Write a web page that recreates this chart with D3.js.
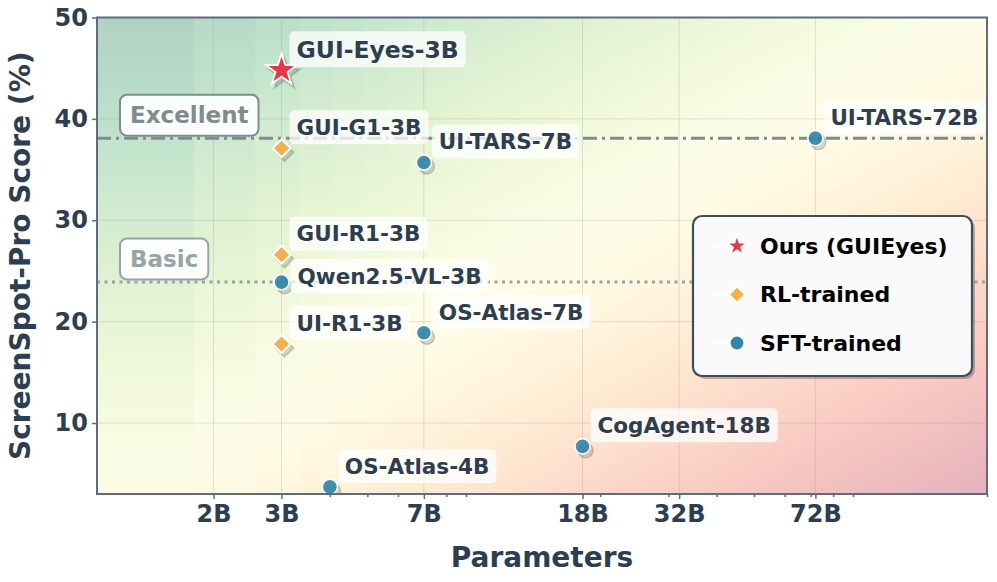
<!DOCTYPE html>
<html>
<head>
<meta charset="utf-8">
<script src="https://cdn.jsdelivr.net/npm/d3@7"></script>
<style>
  html, body { margin: 0; padding: 0; background: #fff; }
  svg { display: block; font-family: "DejaVu Sans", sans-serif; }
</style>
</head>
<body>
<svg id="chart" width="997" height="582"></svg>
<script>
// ScreenSpot-Pro score vs. model size
const models = ['GUI-Eyes-3B', 'GUI-G1-3B', 'UI-TARS-7B', 'UI-TARS-72B', 'GUI-R1-3B',
  'Qwen2.5-VL-3B', 'UI-R1-3B', 'OS-Atlas-7B', 'CogAgent-18B', 'OS-Atlas-4B'];
const params = [3, 3, 7, 72, 3, 3, 3, 7, 18, 4];
const scores = [44.8, 37.1, 35.7, 38.1, 26.6, 23.9, 17.8, 18.9, 7.7, 3.7];
const training = ['ours', 'rl', 'sft', 'sft', 'rl', 'sft', 'rl', 'sft', 'sft', 'sft'];

const xTicks = [2, 3, 7, 18, 32, 72];
const xMinorTicks = [4, 5, 6, 8, 9, 20, 30, 40, 50, 60, 70, 80, 90, 200];
const yTicks = [10, 20, 30, 40, 50];

const thresholdNames = ['Excellent', 'Basic'];
const thresholdValues = [38.1, 23.9];

const legendLabels = ['Ours (GUIEyes)', 'RL-trained', 'SFT-trained'];
const legendKinds = ['ours', 'rl', 'sft'];

// styling
const DARK = '#2c3e50';
const kindStyle = {
  ours: { fill: '#e63946', opacity: 1 },
  rl: { fill: '#f6ae45', opacity: 0.95 },
  sft: { fill: '#2e86ab', opacity: 0.9 }
};
const thresholdStyle = [
  { color: '#7f8c8d', dash: '14,5,3,5' },
  { color: '#95a5a6', dash: '3,4.5' }
];

const svg = d3.select('#chart');
const plotL = 97, plotR = 987, plotT = 17.5, plotB = 494;
const W = plotR - plotL, H = plotB - plotT;

const x = d3.scaleLog().domain([1, 200]).range([plotL, plotR]);
const y = d3.scaleLinear().domain([3, 50]).range([plotB, plotT]);

// background: 2D diverging wash, sampled on a linear grid like imshow
(function drawBackground() {
  const canvas = document.createElement('canvas');
  canvas.width = W; canvas.height = Math.ceil(H);
  const ctx = canvas.getContext('2d');
  const img = ctx.createImageData(canvas.width, canvas.height);
  const N = 256, alpha = 0.3;
  const [x0, x1] = x.domain(), [y0, y1] = y.domain();
  for (let j = 0; j < canvas.height; j++) {
    const yv = y.invert(plotT + j + 0.5);
    const r = Math.min(N - 1, Math.floor((yv - y0) / ((y1 - y0) / N)));
    const ys = y0 + r * (y1 - y0) / (N - 1);
    for (let i = 0; i < canvas.width; i++) {
      const xv = x.invert(plotL + i + 0.5);
      const c = Math.min(N - 1, Math.floor((xv - x0) / ((x1 - x0) / N)));
      const xs = x0 + c * (x1 - x0) / (N - 1);
      const v = 0.5 * Math.log(xs) / Math.log(x1) + 0.5 * (y1 - ys) / (y1 - y0);
      const col = d3.rgb(d3.interpolateRdYlGn(1 - Math.max(0, Math.min(1, v))));
      const k = (j * canvas.width + i) * 4;
      img.data[k] = 255 * (1 - alpha) + col.r * alpha;
      img.data[k + 1] = 255 * (1 - alpha) + col.g * alpha;
      img.data[k + 2] = 255 * (1 - alpha) + col.b * alpha;
      img.data[k + 3] = 255;
    }
  }
  ctx.putImageData(img, 0, 0);
  svg.append('image')
    .attr('x', plotL).attr('y', plotT)
    .attr('width', W).attr('height', canvas.height)
    .attr('preserveAspectRatio', 'none')
    .attr('href', canvas.toDataURL());
})();

svg.append('clipPath').attr('id', 'plot-clip')
  .append('rect').attr('x', plotL).attr('y', plotT).attr('width', W).attr('height', H);

// grid
const grid = svg.append('g').attr('stroke', '#a0a0a0').attr('stroke-opacity', 0.3).attr('stroke-width', 1);
grid.selectAll('.gx').data(xTicks).enter().append('line')
  .attr('x1', d => x(d)).attr('x2', d => x(d)).attr('y1', plotT).attr('y2', plotB);
grid.selectAll('.gy').data(yTicks).enter().append('line')
  .attr('y1', d => y(d)).attr('y2', d => y(d)).attr('x1', plotL).attr('x2', plotR);

// threshold lines
svg.append('g').selectAll('line').data(thresholdValues).enter().append('line')
  .attr('x1', plotL).attr('x2', plotR)
  .attr('y1', d => y(d)).attr('y2', d => y(d))
  .attr('stroke', (d, i) => thresholdStyle[i].color)
  .attr('stroke-width', 3)
  .attr('stroke-dasharray', (d, i) => thresholdStyle[i].dash);

// threshold tags
thresholdNames.forEach((name, i) => {
  const g = svg.append('g');
  const cy = y(thresholdValues[i]) - 23;
  const box = g.append('rect');
  const t = g.append('text')
    .attr('x', 130).attr('y', cy).attr('dy', '0.36em')
    .style('font-size', '23px').style('font-weight', 'bold')
    .attr('fill', thresholdStyle[i].color)
    .text(name);
  const w = t.node().getComputedTextLength();
  box.attr('x', 120).attr('y', cy - 20.5).attr('width', w + 20).attr('height', 41)
    .attr('rx', 7).attr('fill', '#fff').attr('fill-opacity', 0.9)
    .attr('stroke', thresholdStyle[i].color).attr('stroke-width', 2);
});

// marker shapes
function starPath(R) {
  const rIn = R * 0.382, pts = [];
  for (let k = 0; k < 10; k++) {
    const a = -Math.PI / 2 + k * Math.PI / 5;
    const rr = k % 2 ? rIn : R;
    pts.push([rr * Math.cos(a), rr * Math.sin(a)]);
  }
  return 'M' + pts.map(p => p.join(',')).join('L') + 'Z';
}
function diamondPath(h) {
  return `M0,${-h}L${h},0L0,${h}L${-h},0Z`;
}
function drawMarker(g, kind, scale) {
  if (kind === 'ours') return g.append('path').attr('d', starPath(16.5 * scale)).attr('stroke-width', 1.8);
  if (kind === 'rl') return g.append('path').attr('d', diamondPath(9 * scale)).attr('stroke-width', 2);
  return g.append('circle').attr('r', 7.6 * scale).attr('stroke-width', 1.6);
}

// points
const pts = models.map((m, i) => ({ name: m, p: params[i], s: scores[i], kind: training[i] }));
const marks = svg.append('g').attr('clip-path', 'url(#plot-clip)');

marks.selectAll('.shadow').data(pts).enter().append('g')
  .attr('transform', d => `translate(${x(d.p) + 3},${y(d.s) + 4})`)
  .each(function (d) {
    drawMarker(d3.select(this), d.kind, 1)
      .attr('fill', '#000').attr('fill-opacity', 0.15)
      .attr('stroke', '#000').attr('stroke-opacity', 0.15);
  });

marks.selectAll('.pt').data(pts).enter().append('g')
  .attr('transform', d => `translate(${x(d.p)},${y(d.s)})`)
  .each(function (d) {
    const s = kindStyle[d.kind];
    drawMarker(d3.select(this), d.kind, 1)
      .attr('fill', s.fill).attr('fill-opacity', s.opacity)
      .attr('stroke', '#fff');
  });

// point labels
const labelOffset = { dx: 15, dy: -21 };
const labelOffsetOverride = { 'Qwen2.5-VL-3B': { dx: 16, dy: -6 } };
const labels = svg.append('g');
pts.forEach(d => {
  const off = labelOffsetOverride[d.name] || labelOffset;
  const big = d.kind === 'ours';
  const tx = x(d.p) + off.dx, cy = y(d.s) + off.dy;
  const g = labels.append('g');
  const box = g.append('rect');
  const t = g.append('text')
    .attr('x', tx).attr('y', cy).attr('dy', '0.36em')
    .style('font-size', big ? '23.5px' : '21.5px').style('font-weight', 'bold')
    .attr('fill', DARK).text(d.name);
  const w = t.node().getComputedTextLength();
  const hh = big ? 18 : 17;
  box.attr('x', tx - 7).attr('y', cy - hh).attr('width', w + 14).attr('height', hh * 2)
    .attr('rx', 5).attr('fill', '#fff').attr('fill-opacity', 0.75);
});

// axes
const xAxis = svg.append('g').attr('transform', `translate(0,${plotB})`)
  .call(d3.axisBottom(x).tickValues(xTicks).tickFormat(d => d + 'B').tickSizeInner(5).tickSizeOuter(0).tickPadding(6));
const xMinor = svg.append('g').attr('transform', `translate(0,${plotB})`)
  .call(d3.axisBottom(x).tickValues(xMinorTicks).tickFormat('').tickSizeInner(3).tickSizeOuter(0));
const yAxis = svg.append('g').attr('transform', `translate(${plotL},0)`)
  .call(d3.axisLeft(y).tickValues(yTicks).tickSizeInner(5).tickSizeOuter(0).tickPadding(4));

[xAxis, xMinor, yAxis].forEach(a => {
  a.select('.domain').remove();
  a.selectAll('.tick line').attr('stroke', '#5d6d7e').attr('stroke-width', 1.5);
  a.selectAll('.tick text')
    .attr('fill', DARK)
    .style('font-family', '"DejaVu Sans", sans-serif')
    .style('font-size', '24px').style('font-weight', 'bold');
});

// spines
svg.append('rect').attr('x', plotL).attr('y', plotT).attr('width', W).attr('height', H)
  .attr('fill', 'none').attr('stroke', '#5d6d7e').attr('stroke-width', 2);

// axis titles
svg.append('text').attr('x', (plotL + plotR) / 2).attr('y', 567)
  .attr('text-anchor', 'middle').attr('fill', DARK)
  .style('font-size', '28px').style('font-weight', 'bold').text('Parameters');
svg.append('text')
  .attr('transform', `translate(30,${(plotT + plotB) / 2}) rotate(-90)`)
  .attr('text-anchor', 'middle').attr('fill', DARK)
  .style('font-size', '28px').style('font-weight', 'bold').text('ScreenSpot-Pro Score (%)');

// legend
const lg = svg.append('g').attr('transform', 'translate(693,216)');
lg.append('rect').attr('x', 3).attr('y', 3).attr('width', 279).attr('height', 160).attr('rx', 9)
  .attr('fill', '#000').attr('fill-opacity', 0.25);
lg.append('rect').attr('width', 279).attr('height', 160).attr('rx', 9)
  .attr('fill', '#fafafa').attr('stroke', '#3d4e60').attr('stroke-width', 2.2);
legendLabels.forEach((lab, i) => {
  const cy = 30 + i * 48.5;
  lg.append('line').attr('x1', 20).attr('x2', 60).attr('y1', cy).attr('y2', cy)
    .attr('stroke', '#fff').attr('stroke-width', 2).attr('stroke-opacity', 0.8);
  const kind = legendKinds[i];
  const g = lg.append('g').attr('transform', `translate(44,${cy})`);
  const s = kindStyle[kind];
  drawMarker(g, kind, kind === 'ours' ? 0.68 : (kind === 'rl' ? 0.9 : 0.95))
    .attr('fill', s.fill).attr('stroke', '#fff');
  lg.append('text').attr('x', 67).attr('y', cy).attr('dy', '0.36em')
    .attr('fill', '#000').style('font-size', '22px').style('font-weight', 'bold').text(lab);
});
</script>
</body>
</html>
